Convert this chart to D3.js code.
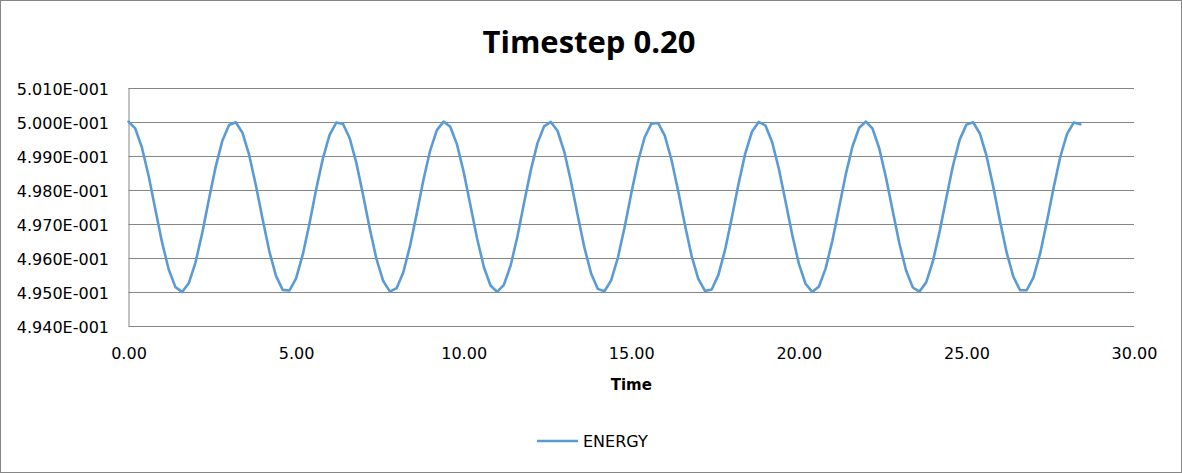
<!DOCTYPE html>
<html>
<head>
<meta charset="utf-8">
<script src="https://cdn.jsdelivr.net/npm/d3@7"></script>
<style>
  body { margin: 0; background: #fff; }
  text { font-family: "DejaVu Sans", "Liberation Sans", sans-serif; fill: #000; }
</style>
</head>
<body>
<div id="chart"></div>
<script>
// chart text
var title = "Timestep 0.20";
var xTitle = "Time";
var seriesName = "ENERGY";

// tick values
var yTicks = [0.494, 0.495, 0.496, 0.497, 0.498, 0.499, 0.500, 0.501];
var xTicks = [0, 5, 10, 15, 20, 25, 30];

// time column (step 0.2)
var time = [
  0.0, 0.2, 0.4, 0.6, 0.8, 1.0, 1.2, 1.4, 1.6, 1.8, 2.0, 2.2, 2.4, 2.6, 2.8, 3.0,
  3.2, 3.4, 3.6, 3.8, 4.0, 4.2, 4.4, 4.6, 4.8, 5.0, 5.2, 5.4, 5.6, 5.8, 6.0, 6.2,
  6.4, 6.6, 6.8, 7.0, 7.2, 7.4, 7.6, 7.8, 8.0, 8.2, 8.4, 8.6, 8.8, 9.0, 9.2, 9.4,
  9.6, 9.8, 10.0, 10.2, 10.4, 10.6, 10.8, 11.0, 11.2, 11.4, 11.6, 11.8, 12.0, 12.2, 12.4,
  12.6, 12.8, 13.0, 13.2, 13.4, 13.6, 13.8, 14.0, 14.2, 14.4, 14.6, 14.8, 15.0, 15.2, 15.4, 15.6,
  15.8, 16.0, 16.2, 16.4, 16.6, 16.8, 17.0, 17.2, 17.4, 17.6, 17.8, 18.0, 18.2, 18.4, 18.6, 18.8,
  19.0, 19.2, 19.4, 19.6, 19.8, 20.0, 20.2, 20.4, 20.6, 20.8, 21.0, 21.2, 21.4, 21.6, 21.8,
  22.0, 22.2, 22.4, 22.6, 22.8, 23.0, 23.2, 23.4, 23.6, 23.8, 24.0, 24.2, 24.4, 24.6, 24.8, 25.0,
  25.2, 25.4, 25.6, 25.8, 26.0, 26.2, 26.4, 26.6, 26.8, 27.0, 27.2, 27.4, 27.6, 27.8, 28.0, 28.2, 28.4
];

// energy column
var energy = [
  0.50000, 0.49980, 0.49924, 0.49841, 0.49743, 0.49646, 0.49566, 0.49514, 0.49500, 0.49526, 0.49587, 0.49673, 0.49772, 0.49867, 0.49944, 0.49990,
  0.49998, 0.49967, 0.49902, 0.49813, 0.49714, 0.49620, 0.49547, 0.49506, 0.49504, 0.49540, 0.49610, 0.49701, 0.49801, 0.49892, 0.49961, 0.49997,
  0.49993, 0.49951, 0.49878, 0.49784, 0.49685, 0.49596, 0.49532, 0.49501, 0.49511, 0.49558, 0.49635, 0.49730, 0.49829, 0.49915, 0.49975, 0.50000,
  0.49985, 0.49933, 0.49852, 0.49755, 0.49657, 0.49574, 0.49519, 0.49500, 0.49521, 0.49577, 0.49661, 0.49760, 0.49856, 0.49936, 0.49986,
  0.49999, 0.49973, 0.49912, 0.49825, 0.49726, 0.49631, 0.49555, 0.49509, 0.49502, 0.49534, 0.49600, 0.49689, 0.49789, 0.49882, 0.49954, 0.49994,
  0.49996, 0.49959, 0.49888, 0.49796, 0.49697, 0.49606, 0.49538, 0.49503, 0.49507, 0.49550, 0.49624, 0.49718, 0.49817, 0.49906, 0.49970, 0.49999,
  0.49989, 0.49941, 0.49863, 0.49767, 0.49669, 0.49583, 0.49524, 0.49500, 0.49516, 0.49569, 0.49650, 0.49747, 0.49845, 0.49927, 0.49982,
  0.50000, 0.49979, 0.49921, 0.49836, 0.49738, 0.49642, 0.49563, 0.49513, 0.49501, 0.49528, 0.49590, 0.49677, 0.49776, 0.49871, 0.49947, 0.49991,
  0.49998, 0.49965, 0.49899, 0.49809, 0.49709, 0.49616, 0.49545, 0.49505, 0.49505, 0.49543, 0.49613, 0.49706, 0.49805, 0.49896, 0.49963, 0.49997, 0.49992
];

var width = 1182, height = 473;
var margin = {top: 87.5, right: 48, bottom: 147, left: 128.5};

var svg = d3.select("#chart").append("svg")
  .attr("width", width)
  .attr("height", height);

// outer chart border
svg.append("rect")
  .attr("x", 0.5).attr("y", 0.5)
  .attr("width", width - 1).attr("height", height - 1)
  .attr("fill", "#fff")
  .attr("stroke", "#868686");

var x = d3.scaleLinear().domain([0, 30]).range([margin.left, width - margin.right]);
var y = d3.scaleLinear().domain([0.494, 0.501]).range([height - margin.bottom, margin.top]);

// horizontal gridlines
svg.append("g").selectAll("line").data(yTicks).enter().append("line")
  .attr("x1", x(0)).attr("x2", x(30))
  .attr("y1", function(d) { return Math.round(y(d)) + 0.5; })
  .attr("y2", function(d) { return Math.round(y(d)) + 0.5; })
  .attr("stroke", "#868686")
  .attr("stroke-width", 1);

// y axis
var yAxis = svg.append("g")
  .attr("transform", "translate(" + x(0) + ",0)")
  .call(d3.axisLeft(y).tickValues(yTicks).tickSize(0).tickPadding(19.5)
    .tickFormat(function(d) { return d3.format(".3f")(d * 10) + "E-001"; }));
yAxis.select(".domain").attr("stroke", "#868686");
yAxis.selectAll("text").style("font-size", "16px").attr("dy", "0.42em");

// x axis
var xAxis = svg.append("g")
  .attr("transform", "translate(0," + y(0.494) + ")")
  .call(d3.axisBottom(x).tickValues(xTicks).tickSize(0).tickPadding(21.5)
    .tickFormat(d3.format(".2f")));
xAxis.select(".domain").remove();
xAxis.selectAll("text").style("font-size", "16px");

// the energy line
var line = d3.line()
  .x(function(d, i) { return x(time[i]); })
  .y(function(d) { return y(d); });

svg.append("path")
  .datum(energy)
  .attr("d", line)
  .attr("fill", "none")
  .attr("stroke", "#5B9BD5")
  .attr("stroke-width", 2.6)
  .attr("stroke-linejoin", "round")
  .attr("stroke-linecap", "round");

// title, centred on the whole chart
svg.append("text")
  .attr("x", 589)
  .attr("y", 53)
  .attr("text-anchor", "middle")
  .style("font-family", "'Open Sans', sans-serif")
  .style("font-size", "31px")
  .style("font-weight", "bold")
  .text(title);

// x axis title
svg.append("text")
  .attr("x", (x(0) + x(30)) / 2)
  .attr("y", 390)
  .attr("text-anchor", "middle")
  .style("font-size", "15px")
  .style("font-weight", "bold")
  .text(xTitle);

// legend
var legend = svg.append("g");
legend.append("line")
  .attr("x1", 537).attr("x2", 578)
  .attr("y1", 441).attr("y2", 441)
  .attr("stroke", "#5B9BD5")
  .attr("stroke-width", 2.6);
legend.append("text")
  .attr("x", 583)
  .attr("y", 447)
  .style("font-size", "16px")
  .text(seriesName);
</script>
</body>
</html>
